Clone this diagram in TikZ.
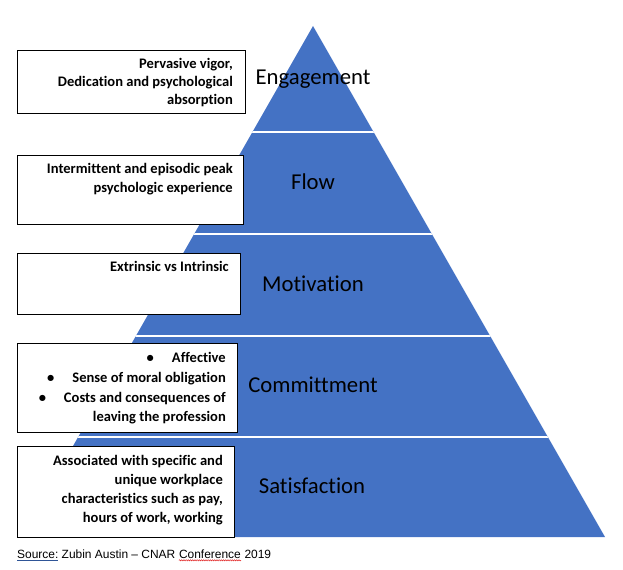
\documentclass[tikz,border=0pt]{standalone}
\usepackage{fontspec}
\setmainfont{Carlito}[Ligatures=NoCommon]
\newfontfamily\arialfont{Liberation Sans}[Ligatures=NoCommon]
\usetikzlibrary{decorations.pathmorphing}
\definecolor{pyrblue}{HTML}{4472C4}
\definecolor{ulblue}{HTML}{2F5597}
\definecolor{wavered}{HTML}{E02020}
\begin{document}
\begin{tikzpicture}[x=1bp,y=-1bp,
  lvl/.style={font=\fontsize{22.8}{27}\selectfont, text=black, inner sep=0, anchor=base},
  infobox/.style={draw=black, line width=0.9bp, fill=white, inner sep=0, anchor=north west},
  infoline/.style={font=\bfseries\fontsize{14.6}{18}\selectfont, inner sep=0, anchor=base east},
  srctext/.style={font=\arialfont\fontsize{12}{14}\selectfont, inner sep=0, anchor=base west},
]
\useasboundingbox (0,0) rectangle (623,570);
% pyramid
\coordinate (apex) at (313,26);
\coordinate (bl) at (21,537);
\coordinate (br) at (605,537);
\fill[pyrblue] (apex) -- (bl) -- (br) -- cycle;
\begin{scope}
  \clip (apex) -- (bl) -- (br) -- cycle;
  \foreach \yy in {132,234,336,437} \draw[white, line width=1.5bp] (0,\yy) -- (623,\yy);
\end{scope}
% level labels
\node[lvl] (engagement) at (313,85) {Engagement};
\node[lvl] (flow) at (313,189) {Flow};
\node[lvl] (motivation) at (313,291) {Motivation};
\node[lvl] (commit) at (313,392) {Committment};
\node[lvl] (satisf) at (312,493) {Satisfaction};
% box 1
\node[infobox, minimum width=228bp, minimum height=63bp] (box1) at (17,50) {};
\node[infoline] (b1l1) at (233,69) {Pervasive vigor,};
\node[infoline] (b1l2) at (233,87) {Dedication and psychological};
\node[infoline] (b1l3) at (233,105) {absorption};
% box 2
\node[infobox, minimum width=226bp, minimum height=69bp] (box2) at (17,155) {};
\node[infoline] (b2l1) at (233,174) {Intermittent and episodic peak};
\node[infoline] (b2l2) at (233,192.5) {psychologic experience};
% box 3
\node[infobox, minimum width=223bp, minimum height=61bp] (box3) at (17,253) {};
\node[infoline] (b3l1) at (229,271.5) {Extrinsic vs Intrinsic};
% box 4
\node[infobox, minimum width=220bp, minimum height=89bp] (box4) at (17,343) {};
\node[infoline] (b4l1) at (226,362.7) {•\hspace{18bp}Affective};
\node[infoline] (b4l2) at (226,382.4) {•\hspace{18bp}Sense of moral obligation};
\node[infoline] (b4l3) at (226,402.1) {•\hspace{18bp}Costs and consequences of};
\node[infoline] (b4l4) at (226,421.7) {leaving the profession};
% box 5
\node[infobox, minimum width=217bp, minimum height=91bp] (box5) at (17,446) {};
\node[infoline] (b5l1) at (223,465) {Associated with specific and};
\node[infoline] (b5l2) at (223,484.3) {unique workplace};
\node[infoline] (b5l3) at (223,503.5) {characteristics such as pay,};
\node[infoline] (b5l4) at (223,522.7) {hours of work, working};
% source line
\node[srctext] (srcA) at (17,558.5) {\textcolor{ulblue}{\underline{\textcolor{black}{Source:}}} Zubin Austin – CNAR};
\node[srctext] (srcB) at ([xshift=3.3bp]srcA.base east) {Conference};
\node[srctext] (srcC) at ([xshift=3.3bp]srcB.base east) {2019};
\draw[wavered, line width=0.5bp, decorate, decoration={snake, amplitude=0.6bp, segment length=2.2bp}]
  ([yshift=-1.8bp]srcB.base west) -- ([yshift=-1.8bp]srcB.base east);
\end{tikzpicture}
\end{document}
